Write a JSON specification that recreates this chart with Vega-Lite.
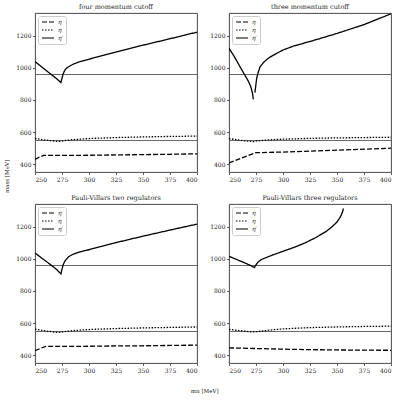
{
  "$schema": "https://vega.github.io/schema/vega-lite/v6.json",
  "padding": {"left": 3, "top": 3, "right": 2, "bottom": 2},
  "bounds": "flush",
  "columns": 2,
  "spacing": {"row": 32, "column": 32},
  "config": {
    "font": "DejaVu Serif",
    "view": {"stroke": "#333", "strokeWidth": 0.9},
    "axis": {"grid": false, "domain": false, "labelOverlap": false, "labelFont": "DejaVu Serif", "labelFontSize": 6, "labelColor": "#222", "tickSize": 2.5, "tickColor": "#333", "tickWidth": 0.8, "labelPadding": 1.5, "titleFont": "DejaVu Serif", "titleFontSize": 5.5, "titleFontWeight": "normal", "titleColor": "#222"},
    "axisY": {"labelOverlap": false},
    "axisQuantitative": {"labelOverlap": false},
    "title": {"font": "DejaVu Serif", "fontSize": 6.5, "fontWeight": "normal", "color": "#222", "offset": 3},
    "legend": {"orient": "top-left", "offset": 3, "title": null, "fillColor": "rgba(255,255,255,0.85)", "strokeColor": "#ccc", "cornerRadius": 2, "padding": 3, "labelFont": "DejaVu Serif", "labelFontStyle": "italic", "labelFontSize": 6, "labelColor": "#222", "symbolType": "M-1,0L5,0", "symbolSize": 16, "symbolStrokeColor": "black", "symbolStrokeWidth": 1.2, "symbolFillColor": "transparent", "labelOffset": 11, "rowPadding": 2}
  },
  "title": {"text": "mπ [MeV]", "orient": "bottom", "anchor": "middle", "fontSize": 5.5, "offset": 16, "dx": 7},
  "resolve": {"legend": {"strokeDash": "independent"}},
  "datasets": {
    "refs": [{"mass": 547.86}, {"mass": 957.78}],
    "curves": [
      {"panel": "A", "state": "eta", "m": 250, "mass": 430},
      {"panel": "A", "state": "eta", "m": 254, "mass": 444},
      {"panel": "A", "state": "eta", "m": 258, "mass": 455},
      {"panel": "A", "state": "eta", "m": 275, "mass": 455},
      {"panel": "A", "state": "eta", "m": 300, "mass": 456},
      {"panel": "A", "state": "eta", "m": 325, "mass": 458},
      {"panel": "A", "state": "eta", "m": 350, "mass": 460},
      {"panel": "A", "state": "eta", "m": 375, "mass": 462},
      {"panel": "A", "state": "eta", "m": 400, "mass": 465},
      {"panel": "A", "state": "eta8", "m": 250, "mass": 560},
      {"panel": "A", "state": "eta8", "m": 260, "mass": 550},
      {"panel": "A", "state": "eta8", "m": 270, "mass": 543},
      {"panel": "A", "state": "eta8", "m": 273, "mass": 542},
      {"panel": "A", "state": "eta8", "m": 276, "mass": 546},
      {"panel": "A", "state": "eta8", "m": 285, "mass": 553},
      {"panel": "A", "state": "eta8", "m": 300, "mass": 560},
      {"panel": "A", "state": "eta8", "m": 325, "mass": 566},
      {"panel": "A", "state": "eta8", "m": 350, "mass": 570},
      {"panel": "A", "state": "eta8", "m": 375, "mass": 573},
      {"panel": "A", "state": "eta8", "m": 400, "mass": 575},
      {"panel": "A", "state": "etap", "m": 250, "mass": 1038},
      {"panel": "A", "state": "etap", "m": 255, "mass": 1011},
      {"panel": "A", "state": "etap", "m": 260, "mass": 985},
      {"panel": "A", "state": "etap", "m": 265, "mass": 958},
      {"panel": "A", "state": "etap", "m": 270, "mass": 932},
      {"panel": "A", "state": "etap", "m": 274, "mass": 908},
      {"panel": "A", "state": "etap", "m": 275, "mass": 935},
      {"panel": "A", "state": "etap", "m": 276, "mass": 960},
      {"panel": "A", "state": "etap", "m": 277, "mass": 976},
      {"panel": "A", "state": "etap", "m": 278, "mass": 988},
      {"panel": "A", "state": "etap", "m": 280, "mass": 1002},
      {"panel": "A", "state": "etap", "m": 285, "mass": 1021},
      {"panel": "A", "state": "etap", "m": 290, "mass": 1034},
      {"panel": "A", "state": "etap", "m": 300, "mass": 1053},
      {"panel": "A", "state": "etap", "m": 325, "mass": 1098},
      {"panel": "A", "state": "etap", "m": 350, "mass": 1140},
      {"panel": "A", "state": "etap", "m": 375, "mass": 1180},
      {"panel": "A", "state": "etap", "m": 400, "mass": 1221},
      {"panel": "B", "state": "eta", "m": 250, "mass": 408},
      {"panel": "B", "state": "eta", "m": 262, "mass": 440},
      {"panel": "B", "state": "eta", "m": 275, "mass": 472},
      {"panel": "B", "state": "eta", "m": 300, "mass": 476},
      {"panel": "B", "state": "eta", "m": 325, "mass": 482},
      {"panel": "B", "state": "eta", "m": 350, "mass": 488},
      {"panel": "B", "state": "eta", "m": 375, "mass": 494},
      {"panel": "B", "state": "eta", "m": 400, "mass": 500},
      {"panel": "B", "state": "eta8", "m": 250, "mass": 560},
      {"panel": "B", "state": "eta8", "m": 260, "mass": 549},
      {"panel": "B", "state": "eta8", "m": 270, "mass": 542},
      {"panel": "B", "state": "eta8", "m": 273, "mass": 541},
      {"panel": "B", "state": "eta8", "m": 276, "mass": 545},
      {"panel": "B", "state": "eta8", "m": 285, "mass": 551},
      {"panel": "B", "state": "eta8", "m": 300, "mass": 556},
      {"panel": "B", "state": "eta8", "m": 325, "mass": 561},
      {"panel": "B", "state": "eta8", "m": 350, "mass": 564},
      {"panel": "B", "state": "eta8", "m": 375, "mass": 566},
      {"panel": "B", "state": "eta8", "m": 400, "mass": 568},
      {"panel": "B", "state": "etap", "branch": 1, "m": 250, "mass": 1121},
      {"panel": "B", "state": "etap", "branch": 1, "m": 255, "mass": 1068},
      {"panel": "B", "state": "etap", "branch": 1, "m": 260, "mass": 1008},
      {"panel": "B", "state": "etap", "branch": 1, "m": 265, "mass": 950},
      {"panel": "B", "state": "etap", "branch": 1, "m": 268, "mass": 915},
      {"panel": "B", "state": "etap", "branch": 1, "m": 270, "mass": 885},
      {"panel": "B", "state": "etap", "branch": 1, "m": 271, "mass": 862},
      {"panel": "B", "state": "etap", "branch": 1, "m": 272, "mass": 832},
      {"panel": "B", "state": "etap", "branch": 1, "m": 272.5, "mass": 803},
      {"panel": "B", "state": "etap", "branch": 2, "m": 274, "mass": 845},
      {"panel": "B", "state": "etap", "branch": 2, "m": 275, "mass": 900},
      {"panel": "B", "state": "etap", "branch": 2, "m": 275.6, "mass": 934},
      {"panel": "B", "state": "etap", "branch": 2, "m": 277, "mass": 970},
      {"panel": "B", "state": "etap", "branch": 2, "m": 278.7, "mass": 1005},
      {"panel": "B", "state": "etap", "branch": 2, "m": 282, "mass": 1033},
      {"panel": "B", "state": "etap", "branch": 2, "m": 286, "mass": 1057},
      {"panel": "B", "state": "etap", "branch": 2, "m": 290, "mass": 1074},
      {"panel": "B", "state": "etap", "branch": 2, "m": 300, "mass": 1110},
      {"panel": "B", "state": "etap", "branch": 2, "m": 310, "mass": 1135},
      {"panel": "B", "state": "etap", "branch": 2, "m": 325, "mass": 1163},
      {"panel": "B", "state": "etap", "branch": 2, "m": 350, "mass": 1213},
      {"panel": "B", "state": "etap", "branch": 2, "m": 375, "mass": 1268},
      {"panel": "B", "state": "etap", "branch": 2, "m": 400, "mass": 1335},
      {"panel": "C", "state": "eta", "m": 250, "mass": 428},
      {"panel": "C", "state": "eta", "m": 255, "mass": 443},
      {"panel": "C", "state": "eta", "m": 260, "mass": 455},
      {"panel": "C", "state": "eta", "m": 275, "mass": 455},
      {"panel": "C", "state": "eta", "m": 300, "mass": 456},
      {"panel": "C", "state": "eta", "m": 325, "mass": 458},
      {"panel": "C", "state": "eta", "m": 350, "mass": 459},
      {"panel": "C", "state": "eta", "m": 375, "mass": 461},
      {"panel": "C", "state": "eta", "m": 400, "mass": 463},
      {"panel": "C", "state": "eta8", "m": 250, "mass": 562},
      {"panel": "C", "state": "eta8", "m": 260, "mass": 551},
      {"panel": "C", "state": "eta8", "m": 270, "mass": 543},
      {"panel": "C", "state": "eta8", "m": 273, "mass": 542},
      {"panel": "C", "state": "eta8", "m": 276, "mass": 546},
      {"panel": "C", "state": "eta8", "m": 285, "mass": 553},
      {"panel": "C", "state": "eta8", "m": 300, "mass": 560},
      {"panel": "C", "state": "eta8", "m": 325, "mass": 566},
      {"panel": "C", "state": "eta8", "m": 350, "mass": 570},
      {"panel": "C", "state": "eta8", "m": 375, "mass": 573},
      {"panel": "C", "state": "eta8", "m": 400, "mass": 576},
      {"panel": "C", "state": "etap", "m": 250, "mass": 1036},
      {"panel": "C", "state": "etap", "m": 255, "mass": 1010},
      {"panel": "C", "state": "etap", "m": 260, "mass": 985},
      {"panel": "C", "state": "etap", "m": 265, "mass": 960},
      {"panel": "C", "state": "etap", "m": 270, "mass": 933},
      {"panel": "C", "state": "etap", "m": 274, "mass": 906},
      {"panel": "C", "state": "etap", "m": 275, "mass": 935},
      {"panel": "C", "state": "etap", "m": 276, "mass": 960},
      {"panel": "C", "state": "etap", "m": 277, "mass": 976},
      {"panel": "C", "state": "etap", "m": 278, "mass": 988},
      {"panel": "C", "state": "etap", "m": 281, "mass": 1012},
      {"panel": "C", "state": "etap", "m": 285, "mass": 1027},
      {"panel": "C", "state": "etap", "m": 290, "mass": 1039},
      {"panel": "C", "state": "etap", "m": 300, "mass": 1056},
      {"panel": "C", "state": "etap", "m": 325, "mass": 1100},
      {"panel": "C", "state": "etap", "m": 350, "mass": 1140},
      {"panel": "C", "state": "etap", "m": 375, "mass": 1178},
      {"panel": "C", "state": "etap", "m": 400, "mass": 1215},
      {"panel": "D", "state": "eta", "m": 250, "mass": 446},
      {"panel": "D", "state": "eta", "m": 275, "mass": 442},
      {"panel": "D", "state": "eta", "m": 300, "mass": 438},
      {"panel": "D", "state": "eta", "m": 325, "mass": 435},
      {"panel": "D", "state": "eta", "m": 350, "mass": 433},
      {"panel": "D", "state": "eta", "m": 375, "mass": 432},
      {"panel": "D", "state": "eta", "m": 400, "mass": 431},
      {"panel": "D", "state": "eta8", "m": 250, "mass": 561},
      {"panel": "D", "state": "eta8", "m": 260, "mass": 553},
      {"panel": "D", "state": "eta8", "m": 270, "mass": 546},
      {"panel": "D", "state": "eta8", "m": 273, "mass": 545},
      {"panel": "D", "state": "eta8", "m": 280, "mass": 550},
      {"panel": "D", "state": "eta8", "m": 290, "mass": 558},
      {"panel": "D", "state": "eta8", "m": 300, "mass": 564},
      {"panel": "D", "state": "eta8", "m": 325, "mass": 572},
      {"panel": "D", "state": "eta8", "m": 350, "mass": 576},
      {"panel": "D", "state": "eta8", "m": 375, "mass": 579},
      {"panel": "D", "state": "eta8", "m": 400, "mass": 581},
      {"panel": "D", "state": "etap", "m": 250, "mass": 1015},
      {"panel": "D", "state": "etap", "m": 255, "mass": 1001},
      {"panel": "D", "state": "etap", "m": 260, "mass": 987},
      {"panel": "D", "state": "etap", "m": 265, "mass": 973},
      {"panel": "D", "state": "etap", "m": 270, "mass": 958},
      {"panel": "D", "state": "etap", "m": 273.5, "mass": 945},
      {"panel": "D", "state": "etap", "m": 275, "mass": 962},
      {"panel": "D", "state": "etap", "m": 277, "mass": 980},
      {"panel": "D", "state": "etap", "m": 280, "mass": 995},
      {"panel": "D", "state": "etap", "m": 290, "mass": 1022},
      {"panel": "D", "state": "etap", "m": 300, "mass": 1046},
      {"panel": "D", "state": "etap", "m": 310, "mass": 1070},
      {"panel": "D", "state": "etap", "m": 320, "mass": 1097},
      {"panel": "D", "state": "etap", "m": 330, "mass": 1130},
      {"panel": "D", "state": "etap", "m": 340, "mass": 1170},
      {"panel": "D", "state": "etap", "m": 345, "mass": 1196},
      {"panel": "D", "state": "etap", "m": 350, "mass": 1228},
      {"panel": "D", "state": "etap", "m": 353, "mass": 1258},
      {"panel": "D", "state": "etap", "m": 355, "mass": 1288},
      {"panel": "D", "state": "etap", "m": 356, "mass": 1312}
    ]
  },
  "concat": [
    {
      "title": "four momentum cutoff",
      "width": 162, "height": 159,
      "layer": [
        {"data": {"name": "refs"}, "mark": {"type": "rule", "color": "#555", "strokeWidth": 0.9}, "encoding": {"y": {"field": "mass", "type": "quantitative", "axis": {"values": [400, 600, 800, 1000, 1200], "labelOverlap": false, "title": "mass [MeV]", "titleX": -26, "titleY": 163}}}},
        {"data": {"name": "curves"}, "transform": [{"filter": "datum.panel == 'A'"}],
         "mark": {"type": "line", "color": "black", "strokeWidth": 1.3, "clip": true},
         "encoding": {
           "x": {"field": "m", "type": "quantitative", "scale": {"domain": [250, 400], "nice": false}, "axis": {"values": [250, 275, 300, 325, 350, 375, 400], "format": "d", "title": null, "labelOverlap": false}},
           "y": {"field": "mass", "type": "quantitative", "scale": {"domain": [352, 1340], "nice": false, "zero": false}, "axis": {"values": [400, 600, 800, 1000, 1200], "format": "d", "labelOverlap": false, "title": "mass [MeV]", "titleX": -26, "titleY": 163}},
           "strokeDash": {"field": "state", "type": "nominal", "scale": {"domain": ["eta", "eta8", "etap"], "range": [[5, 2], [1.5, 1.5], [1, 0]]}, "legend": {"labelExpr": "datum.value == 'etap' ? 'η′' : 'η'"}},
           "detail": {"field": "branch"}
         }}
      ]
    },
    {
      "title": "three momentum cutoff",
      "width": 162, "height": 159,
      "layer": [
        {"data": {"name": "refs"}, "mark": {"type": "rule", "color": "#555", "strokeWidth": 0.9}, "encoding": {"y": {"field": "mass", "type": "quantitative", "axis": {"values": [400, 600, 800, 1000, 1200], "labelOverlap": false, "title": null}}}},
        {"data": {"name": "curves"}, "transform": [{"filter": "datum.panel == 'B'"}],
         "mark": {"type": "line", "color": "black", "strokeWidth": 1.3, "clip": true},
         "encoding": {
           "x": {"field": "m", "type": "quantitative", "scale": {"domain": [250, 400], "nice": false}, "axis": {"values": [250, 275, 300, 325, 350, 375, 400], "format": "d", "title": null, "labelOverlap": false}},
           "y": {"field": "mass", "type": "quantitative", "scale": {"domain": [352, 1340], "nice": false, "zero": false}, "axis": {"values": [400, 600, 800, 1000, 1200], "format": "d", "labelOverlap": false, "title": null}},
           "strokeDash": {"field": "state", "type": "nominal", "scale": {"domain": ["eta", "eta8", "etap"], "range": [[5, 2], [1.5, 1.5], [1, 0]]}, "legend": {"labelExpr": "datum.value == 'etap' ? 'η′' : 'η'"}},
           "detail": {"field": "branch"}
         }}
      ]
    },
    {
      "title": "Pauli-Villars two regulators",
      "width": 162, "height": 159,
      "layer": [
        {"data": {"name": "refs"}, "mark": {"type": "rule", "color": "#555", "strokeWidth": 0.9}, "encoding": {"y": {"field": "mass", "type": "quantitative", "axis": {"values": [400, 600, 800, 1000, 1200], "labelOverlap": false, "title": null}}}},
        {"data": {"name": "curves"}, "transform": [{"filter": "datum.panel == 'C'"}],
         "mark": {"type": "line", "color": "black", "strokeWidth": 1.3, "clip": true},
         "encoding": {
           "x": {"field": "m", "type": "quantitative", "scale": {"domain": [250, 400], "nice": false}, "axis": {"values": [250, 275, 300, 325, 350, 375, 400], "format": "d", "title": null, "labelOverlap": false}},
           "y": {"field": "mass", "type": "quantitative", "scale": {"domain": [352, 1340], "nice": false, "zero": false}, "axis": {"values": [400, 600, 800, 1000, 1200], "format": "d", "labelOverlap": false, "title": null}},
           "strokeDash": {"field": "state", "type": "nominal", "scale": {"domain": ["eta", "eta8", "etap"], "range": [[5, 2], [1.5, 1.5], [1, 0]]}, "legend": {"labelExpr": "datum.value == 'etap' ? 'η′' : 'η'"}},
           "detail": {"field": "branch"}
         }}
      ]
    },
    {
      "title": "Pauli-Villars three regulators",
      "width": 162, "height": 159,
      "layer": [
        {"data": {"name": "refs"}, "mark": {"type": "rule", "color": "#555", "strokeWidth": 0.9}, "encoding": {"y": {"field": "mass", "type": "quantitative", "axis": {"values": [400, 600, 800, 1000, 1200], "labelOverlap": false, "title": null}}}},
        {"data": {"name": "curves"}, "transform": [{"filter": "datum.panel == 'D'"}],
         "mark": {"type": "line", "color": "black", "strokeWidth": 1.3, "clip": true},
         "encoding": {
           "x": {"field": "m", "type": "quantitative", "scale": {"domain": [250, 400], "nice": false}, "axis": {"values": [250, 275, 300, 325, 350, 375, 400], "format": "d", "title": null, "labelOverlap": false}},
           "y": {"field": "mass", "type": "quantitative", "scale": {"domain": [352, 1340], "nice": false, "zero": false}, "axis": {"values": [400, 600, 800, 1000, 1200], "format": "d", "labelOverlap": false, "title": null}},
           "strokeDash": {"field": "state", "type": "nominal", "scale": {"domain": ["eta", "eta8", "etap"], "range": [[5, 2], [1.5, 1.5], [1, 0]]}, "legend": {"labelExpr": "datum.value == 'etap' ? 'η′' : 'η'"}},
           "detail": {"field": "branch"}
         }}
      ]
    }
  ]
}
